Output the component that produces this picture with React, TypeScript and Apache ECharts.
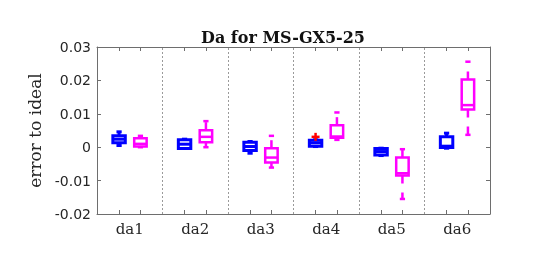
import React, { useEffect, useRef } from "react";
import * as echarts from "echarts";

const categories = ["da1", "da2", "da3", "da4", "da5", "da6"];
// [min, q1, median, q3, max]
const blueStats = [
  [0.0005, 0.0013, 0.0024, 0.0034, 0.0046],
  [-0.0003, -0.0004, 0.0009, 0.0022, 0.0024],
  [-0.0018, -0.001, 0.0002, 0.0015, 0.0017],
  [0.0002, 0.0003, 0.0013, 0.0021, 0.0022],
  [-0.0025, -0.0023, -0.0013, -0.0004, -0.0003],
  [-0.0003, -0.0001, 0.0003, 0.0031, 0.0042],
];
const magentaStats = [
  [0.0, 0.0002, 0.001, 0.0027, 0.0034],
  [0.0, 0.0015, 0.0031, 0.0051, 0.0078],
  [-0.0061, -0.0046, -0.0031, -0.0003, 0.0034],
  [0.0022, 0.0028, 0.0032, 0.0066, 0.0104],
  [-0.0155, -0.0085, -0.0078, -0.0031, -0.0006],
  [0.0037, 0.0113, 0.0126, 0.0203, 0.0256],
];
// outliers: [categoryIndex, value] for the blue group
const blueOutliers = [[3, 0.0031]];

const OFFSET = 0.163;
const BOX_W = 0.19;

function makeBox(color: string, lw: number) {
  return (params: any, api: any) => {
    const x = api.value(0);
    const mn = api.coord([x, api.value(1)]);
    const q1 = api.coord([x, api.value(2)]);
    const md = api.coord([x, api.value(3)]);
    const q3 = api.coord([x, api.value(4)]);
    const mx = api.coord([x, api.value(5)]);
    const hw = api.size([BOX_W, 0])[0] / 2;
    const cw = hw * 0.42;
    const cx = q1[0];
    const st = { stroke: color, lineWidth: lw, fill: null };
    const dash = { stroke: color, lineWidth: lw, lineDash: [8, 9] };
    return {
      type: "group",
      children: [
        { type: "line", shape: { x1: cx, y1: q3[1], x2: cx, y2: mx[1] }, style: dash },
        { type: "line", shape: { x1: cx, y1: q1[1], x2: cx, y2: mn[1] }, style: dash },
        { type: "line", shape: { x1: cx - cw, y1: mx[1], x2: cx + cw, y2: mx[1] }, style: st },
        { type: "line", shape: { x1: cx - cw, y1: mn[1], x2: cx + cw, y2: mn[1] }, style: st },
        {
          type: "rect",
          shape: { x: cx - hw, y: q3[1], width: hw * 2, height: q1[1] - q3[1] },
          style: { stroke: color, lineWidth: lw, fill: "#fff" },
        },
        { type: "line", shape: { x1: cx - hw, y1: md[1], x2: cx + hw, y2: md[1] }, style: st },
      ],
    };
  };
}

export default function App() {
  const ref = useRef<HTMLDivElement>(null);
  useEffect(() => {
    const chart = echarts.init(ref.current!, null, { renderer: "svg" });
    const tickPos: number[] = [];
    categories.forEach((_, i) => {
      tickPos.push(i + 0.5 - OFFSET, i + 0.5 + OFFSET);
    });
    const labelPos = categories.map((_, i) => i + 0.5);
    const blueData = blueStats.map((s, i) => [i + 0.5 - OFFSET, ...s]);
    const magData = magentaStats.map((s, i) => [i + 0.5 + OFFSET, ...s]);
    const outData = blueOutliers.map(([c, v]) => [c + 0.5 - OFFSET, v]);
    const axisColor = "#6e6e6e";
    const textColor = "#262626";
    const xAxisBase = {
      type: "value",
      min: 0,
      max: 6,
      axisLine: { show: true, onZero: false, lineStyle: { color: axisColor, width: 1 } },
      axisTick: {
        show: true,
        inside: true,
        length: 4,
        customValues: tickPos,
        lineStyle: { color: axisColor },
      },
      splitLine: { show: false },
    };
    const yAxisBase = {
      type: "value",
      min: -0.02,
      max: 0.03,
      interval: 0.01,
      axisLine: { show: true, onZero: false, lineStyle: { color: axisColor } },
      axisTick: { show: true, inside: true, length: 4, lineStyle: { color: axisColor } },
      splitLine: { show: false },
    };
    chart.setOption({
      animation: false,
      grid: { left: 97, right: 52, top: 47, bottom: 46 },
      graphic: [
        {
          type: "text",
          x: 283,
          y: 37,
          style: {
            text: "Da for MS-GX5-25",
            font: "bold 16px 'DejaVu Serif'",
            fill: "#111",
            textAlign: "center",
            textVerticalAlign: "middle",
          },
        },
      ],
      xAxis: [
        {
          ...xAxisBase,
          position: "bottom",
          axisLabel: {
            customValues: labelPos,
            formatter: (v: number) => categories[Math.round(v - 0.5)] ?? "",
            color: textColor,
            fontFamily: "DejaVu Serif",
            fontSize: 15,
            margin: 7,
          },
        },
        {
          ...xAxisBase,
          position: "top",
          axisLabel: { show: false },
        },
      ],
      yAxis: [
        {
          ...yAxisBase,
          position: "left",
          name: "error to ideal",
          nameLocation: "middle",
          nameGap: 52,
          nameTextStyle: { fontFamily: "DejaVu Serif", fontSize: 17, color: textColor },
          axisLabel: {
            formatter: (v: number) => (Math.abs(v) < 1e-9 ? "0" : v.toFixed(2)),
            color: textColor,
            fontFamily: "DejaVu Sans",
            fontSize: 14,
            margin: 6,
          },
        },
        {
          ...yAxisBase,
          position: "right",
          axisLabel: { show: false },
        },
      ],
      series: [
        {
          type: "scatter",
          data: [],
          silent: true,
          markLine: {
            silent: true,
            symbol: ["none", "none"],
            label: { show: false },
            lineStyle: { color: "#9a9a9a", type: [2, 2], width: 1 },
            data: [1, 2, 3, 4, 5].map((v) => ({ xAxis: v })),
          },
        },
        {
          type: "custom",
          renderItem: makeBox("#0000ff", 3),
          data: blueData,
          encode: { x: 0, y: [1, 2, 3, 4, 5] },
          silent: true,
        },
        {
          type: "custom",
          renderItem: makeBox("#ff00ff", 2.5),
          data: magData,
          encode: { x: 0, y: [1, 2, 3, 4, 5] },
          silent: true,
        },
        {
          type: "custom",
          renderItem: (params: any, api: any) => {
            const p = api.coord([api.value(0), api.value(1)]);
            const r = 4;
            const st = { stroke: "#ff0000", lineWidth: 2.5 };
            return {
              type: "group",
              children: [
                { type: "line", shape: { x1: p[0] - r, y1: p[1], x2: p[0] + r, y2: p[1] }, style: st },
                { type: "line", shape: { x1: p[0], y1: p[1] - r, x2: p[0], y2: p[1] + r }, style: st },
              ],
            };
          },
          data: outData,
          encode: { x: 0, y: 1 },
          silent: true,
        },
      ],
    });
    return () => chart.dispose();
  }, []);
  return (
    <div
      ref={ref}
      style={{ position: "fixed", left: 0, top: 0, width: 542, height: 260 }}
    />
  );
}
